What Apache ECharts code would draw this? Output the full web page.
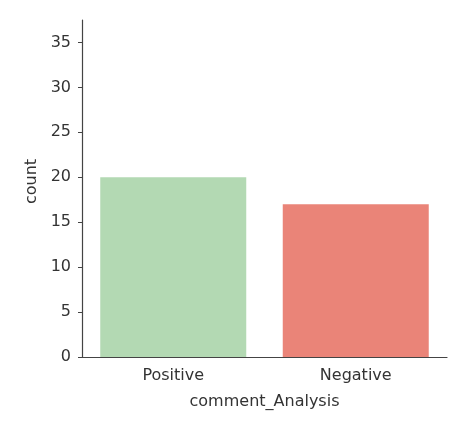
<!DOCTYPE html>
<html>
<head>
<meta charset="utf-8">
<script src="https://cdn.jsdelivr.net/npm/echarts@6/dist/echarts.min.js"></script>
<style>
  html, body { margin: 0; padding: 0; background: #fff; }
  #chart { width: 467px; height: 437px; }
</style>
</head>
<body>
<div id="chart"></div>
<script>
// countplot of comment sentiment
var categories = ['Positive', 'Negative']
var counts = [20, 17]
var barColors = ['#b3d9b3', '#ea8478']
var yTicks = [0, 5, 10, 15, 20, 25, 30, 35]

var chart = echarts.init(document.getElementById('chart'))
var font = 'DejaVu Sans'
chart.setOption({
  animation: false,
  grid: { left: 82, right: 20, top: 20, bottom: 80 },
  xAxis: {
    type: 'category',
    data: categories,
    name: 'comment_Analysis',
    nameLocation: 'middle',
    nameGap: 37,
    nameTextStyle: { color: '#333', fontFamily: font, fontSize: 16 },
    axisLine: { lineStyle: { color: '#444', width: 1.2 } },
    axisTick: { alignWithLabel: true, length: 4, lineStyle: { color: '#444' } },
    axisLabel: { color: '#333', fontFamily: font, fontSize: 16, margin: 11 }
  },
  yAxis: {
    type: 'value',
    min: 0,
    max: 37.5,
    interval: 5,
    name: 'count',
    nameLocation: 'middle',
    nameGap: 41,
    nameTextStyle: { color: '#333', fontFamily: font, fontSize: 16, padding: [0, 0, 0, 14] },
    splitLine: { show: false },
    axisLine: { show: true, lineStyle: { color: '#444', width: 1.2 } },
    axisTick: { show: true, length: 4, customValues: yTicks, lineStyle: { color: '#444' } },
    axisLabel: { color: '#333', fontFamily: font, fontSize: 16, margin: 11, customValues: yTicks }
  },
  series: [{
    type: 'bar',
    barWidth: 146,
    data: counts.map(function (v, i) {
      return { value: v, itemStyle: { color: barColors[i] } }
    })
  }]
})
</script>
</body>
</html>
